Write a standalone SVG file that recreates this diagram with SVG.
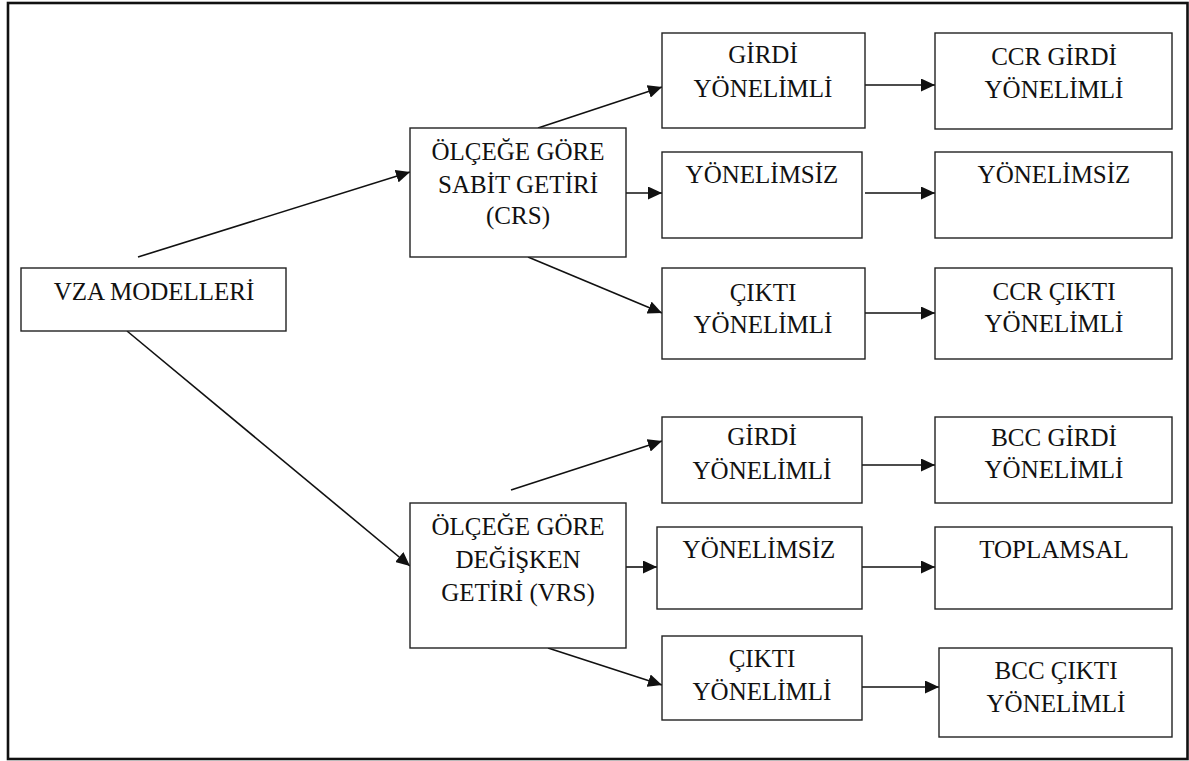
<svg xmlns="http://www.w3.org/2000/svg" width="1189" height="761" viewBox="0 0 1189 761">
<style>
.box{fill:#fff;stroke:#222;stroke-width:1.4}
.t{font-family:"Liberation Serif","Times New Roman",serif;font-size:25px;fill:#111;text-anchor:middle}
.c{stroke:#111;stroke-width:1.6;fill:none;marker-end:url(#ah)}
</style>
<defs>
<marker id="ah" markerUnits="userSpaceOnUse" markerWidth="15" markerHeight="13" refX="14" refY="6.5" orient="auto">
<path d="M0,0 L14,6.5 L0,13 z" fill="#111"/>
</marker>
</defs>
<rect x="0" y="0" width="1189" height="761" fill="#fff"/>
<rect x="8" y="3" width="1179.5" height="756" fill="none" stroke="#111" stroke-width="2.6"/>
<g id="connectors">
<line class="c" x1="138" y1="257" x2="410" y2="172"/>
<line class="c" x1="127" y1="331" x2="410" y2="566"/>
<line class="c" x1="538" y1="128" x2="662" y2="87"/>
<line class="c" x1="626" y1="193" x2="662" y2="193"/>
<line class="c" x1="528" y1="257" x2="662" y2="313"/>
<line class="c" x1="865" y1="85" x2="935" y2="85"/>
<line class="c" x1="865" y1="193" x2="935" y2="193"/>
<line class="c" x1="865" y1="313" x2="935" y2="313"/>
<line class="c" x1="511" y1="490" x2="662" y2="441"/>
<line class="c" x1="626" y1="567" x2="657" y2="567"/>
<line class="c" x1="548" y1="648" x2="662" y2="685"/>
<line class="c" x1="862" y1="465" x2="935" y2="465"/>
<line class="c" x1="862" y1="567" x2="935" y2="567"/>
<line class="c" x1="862" y1="687" x2="939" y2="687"/>
</g>
<g id="vza">
<rect class="box" x="21" y="268" width="265" height="63"/>
<text class="t" x="154" y="300">VZA MODELLERİ</text>
</g>
<g id="crs">
<rect class="box" x="410" y="128" width="216" height="129"/>
<text class="t" x="518" y="160">ÖLÇEĞE GÖRE</text>
<text class="t" x="518" y="193">SABİT GETİRİ</text>
<text class="t" x="518" y="224">(CRS)</text>
</g>
<g id="crs-girdi">
<rect class="box" x="662" y="33" width="203" height="95"/>
<text class="t" x="763" y="63">GİRDİ</text>
<text class="t" x="763" y="97">YÖNELİMLİ</text>
</g>
<g id="crs-yonelimsiz">
<rect class="box" x="662" y="152" width="200" height="86"/>
<text class="t" x="762" y="183">YÖNELİMSİZ</text>
</g>
<g id="crs-cikti">
<rect class="box" x="662" y="268" width="203" height="91"/>
<text class="t" x="763" y="301">ÇIKTI</text>
<text class="t" x="763" y="333">YÖNELİMLİ</text>
</g>
<g id="ccr-girdi">
<rect class="box" x="935" y="33" width="237" height="96"/>
<text class="t" x="1054" y="65">CCR GİRDİ</text>
<text class="t" x="1054" y="98">YÖNELİMLİ</text>
</g>
<g id="ccr-yonelimsiz">
<rect class="box" x="935" y="152" width="237" height="86"/>
<text class="t" x="1054" y="183">YÖNELİMSİZ</text>
</g>
<g id="ccr-cikti">
<rect class="box" x="935" y="268" width="237" height="91"/>
<text class="t" x="1054" y="300">CCR ÇIKTI</text>
<text class="t" x="1054" y="332">YÖNELİMLİ</text>
</g>
<g id="vrs">
<rect class="box" x="410" y="503" width="216" height="145"/>
<text class="t" x="518" y="535">ÖLÇEĞE GÖRE</text>
<text class="t" x="518" y="568">DEĞİŞKEN</text>
<text class="t" x="518" y="601">GETİRİ (VRS)</text>
</g>
<g id="vrs-girdi">
<rect class="box" x="662" y="417" width="200" height="86"/>
<text class="t" x="762" y="445">GİRDİ</text>
<text class="t" x="762" y="479">YÖNELİMLİ</text>
</g>
<g id="vrs-yonelimsiz">
<rect class="box" x="657" y="527" width="205" height="82"/>
<text class="t" x="759" y="558">YÖNELİMSİZ</text>
</g>
<g id="vrs-cikti">
<rect class="box" x="662" y="636" width="200" height="84"/>
<text class="t" x="762" y="667">ÇIKTI</text>
<text class="t" x="762" y="700">YÖNELİMLİ</text>
</g>
<g id="bcc-girdi">
<rect class="box" x="935" y="417" width="237" height="86"/>
<text class="t" x="1054" y="446">BCC GİRDİ</text>
<text class="t" x="1054" y="478">YÖNELİMLİ</text>
</g>
<g id="toplamsal">
<rect class="box" x="935" y="527" width="237" height="82"/>
<text class="t" x="1054" y="558">TOPLAMSAL</text>
</g>
<g id="bcc-cikti">
<rect class="box" x="939" y="648" width="233" height="89"/>
<text class="t" x="1056" y="679">BCC ÇIKTI</text>
<text class="t" x="1056" y="712">YÖNELİMLİ</text>
</g>
</svg>
